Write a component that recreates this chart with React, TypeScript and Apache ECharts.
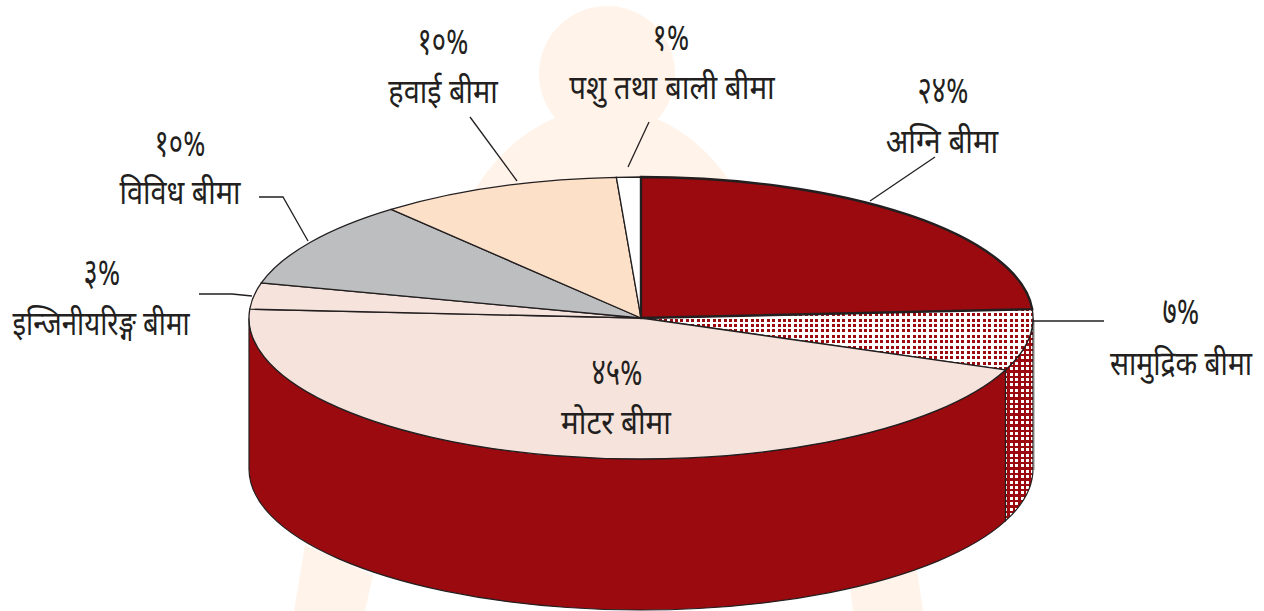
import React, { useEffect, useRef } from "react";
import * as echarts from "echarts";

// ---- data ----
const categories = ["अग्नि बीमा", "सामुद्रिक बीमा", "मोटर बीमा", "इन्जिनीयरिङ्ग बीमा", "विविध बीमा", "हवाई बीमा", "पशु तथा बाली बीमा"];
const shares = [24, 7, 45, 3, 10, 10, 1];
const shareLabels = ["२४%", "७%", "४५%", "३%", "१०%", "१०%", "१%"];

// ---- styles / layout ----
const CX = 641, CY = 318, RX = 392, RY = 141, DEPTH = 151;
const RED = "#9a0a0e";
const INK = "#231f20";
const WASH = "#fff3ea";
const topFills = [RED, "DOTS_TOP", "#f6e4dc", "#f6e4dc", "#bcbec0", "#fde0c8", "#ffffff"];
const sideFills = [RED, "DOTS_SIDE", RED, RED, RED, RED, RED];
const shareCentres = [[943, 94], [1181, 315], [617, 376], [102, 276], [180, 147], [443, 45], [671, 41]];
const nameCentres = [[942, 144], [1181, 367], [616, 425], [101, 327], [180, 196], [443, 95], [672, 90]];
const nameScales = [0.87, 0.83, 0.87, 0.81, 0.85, 0.85, 0.87];
const leaders = [
  [[870, 201], [935, 157]],
  [[1033, 321], [1104, 321]],
  null,
  [[199, 294], [232, 294], [252, 296]],
  [[259, 197], [283, 197], [308, 241]],
  [[517, 181], [470, 117]],
  [[628, 167], [649, 122]],
];
const FONT = '"Noto Sans Devanagari", "Lohit Devanagari", "Noto Sans", "FreeSans", sans-serif';

function dotTile(bg: string, fg: string, size: number) {
  const periods = 5, period = 5.4;
  const c = document.createElement("canvas");
  c.width = c.height = Math.round(periods * period);
  const g = c.getContext("2d")!;
  g.fillStyle = bg;
  g.fillRect(0, 0, c.width, c.height);
  g.fillStyle = fg;
  for (let i = 0; i < periods; i++) for (let j = 0; j < periods; j++) {
    g.fillRect(Math.round(i * period), Math.round(j * period), size, size);
  }
  return { image: c, repeat: "repeat" };
}

const total = shares.reduce((a, b) => a + b, 0);
const startAngle = (i: number) => (shares.slice(0, i).reduce((a, b) => a + b, 0) / total) * 360;
const pt = (deg: number, dy = 0): [number, number] => {
  const r = (deg * Math.PI) / 180;
  return [CX + RX * Math.sin(r), CY - RY * Math.cos(r) + dy];
};
const topPath = (a0: number, a1: number) => {
  const p0 = pt(a0), p1 = pt(a1);
  return `M${CX} ${CY}L${p0[0]} ${p0[1]}A${RX} ${RY} 0 ${a1 - a0 > 180 ? 1 : 0} 1 ${p1[0]} ${p1[1]}Z`;
};
const sidePath = (a0: number, a1: number) => {
  const p0 = pt(a0), p1 = pt(a1), q0 = pt(a0, DEPTH), q1 = pt(a1, DEPTH);
  const big = a1 - a0 > 180 ? 1 : 0;
  return `M${p0[0]} ${p0[1]}A${RX} ${RY} 0 ${big} 1 ${p1[0]} ${p1[1]}L${q1[0]} ${q1[1]}A${RX} ${RY} 0 ${big} 0 ${q0[0]} ${q0[1]}Z`;
};

export default function App() {
  const ref = useRef<HTMLDivElement>(null);
  useEffect(() => {
    document.body.style.margin = "0";
    const chart = echarts.init(ref.current!, undefined, { renderer: "svg" });
    const pats: Record<string, any> = {
      DOTS_TOP: dotTile("#ffffff", RED, 3),
      DOTS_SIDE: dotTile(RED, "#ffffff", 3),
    };
    const fillOf = (f: string) => pats[f] || f;
    const seriesData = categories.map((name, i) => ({ name, value: shares[i] }));

    const graphics: any[] = [
      { type: "circle", z: -10, shape: { cx: 607, cy: 74, r: 68 }, style: { fill: WASH }, silent: true },
      { type: "polygon", z: -10, silent: true, shape: { points: [[294, 611], [305, 545], [373, 575], [365, 611]] }, style: { fill: WASH } },
      { type: "polygon", z: -10, silent: true, shape: { points: [[853, 611], [850, 585], [917, 570], [923, 611]] }, style: { fill: WASH } },
      { type: "ellipse", z: -10, silent: true, shape: { cx: 605, cy: 336, rx: 170, ry: 228 }, style: { fill: WASH } },
      { type: "line", z: 1, silent: true, shape: { x1: 1034.5, y1: 320, x2: 1034.5, y2: 470 }, style: { stroke: "#c4c4c4", lineWidth: 1 } },
    ];
    categories.forEach((name, i) => {
      graphics.push({
        type: "text", z: 20, x: shareCentres[i][0], y: shareCentres[i][1], scaleX: 0.72,
        style: { text: shareLabels[i], fill: INK, font: `38px ${FONT}`, align: "center", verticalAlign: "middle" },
      });
      graphics.push({
        type: "text", z: 20, x: nameCentres[i][0], y: nameCentres[i][1], scaleX: nameScales[i],
        style: { text: name, fill: INK, font: `34px ${FONT}`, align: "center", verticalAlign: "middle" },
      });
      const l = leaders[i];
      if (l) graphics.push({ type: "polyline", z: 20, silent: true, shape: { points: l }, style: { stroke: INK, lineWidth: 1.3, fill: "none" } });
    });

    chart.setOption({
      animation: false,
      backgroundColor: "#ffffff",
      graphic: { elements: graphics },
      series: [
        {
          type: "custom",
          coordinateSystem: "none",
          z: 2,
          silent: true,
          data: seriesData,
          renderItem: (params: any) => {
            const i = params.dataIndex;
            const a0 = Math.max(startAngle(i), 90);
            const a1 = Math.min(startAngle(i + 1), 270);
            if (a1 <= a0) return { type: "group", children: [] };
            return {
              type: "path",
              shape: { pathData: sidePath(a0, a1) },
              style: { fill: fillOf(sideFills[i]), stroke: INK, lineWidth: 1.2 },
            };
          },
        },
        {
          type: "custom",
          coordinateSystem: "none",
          z: 3,
          silent: true,
          data: seriesData,
          renderItem: (params: any) => {
            const i = params.dataIndex;
            return {
              type: "path",
              z2: i === 0 ? 10 : 1,
              shape: { pathData: topPath(startAngle(i), startAngle(i + 1)) },
              style: { fill: fillOf(topFills[i]), stroke: INK, lineWidth: i === 0 ? 2.4 : 1.3, lineJoin: "miter" },
            };
          },
        },
      ],
    });
    return () => chart.dispose();
  }, []);
  return <div ref={ref} style={{ position: "absolute", left: 0, top: 0, width: 1264, height: 611 }} />;
}
